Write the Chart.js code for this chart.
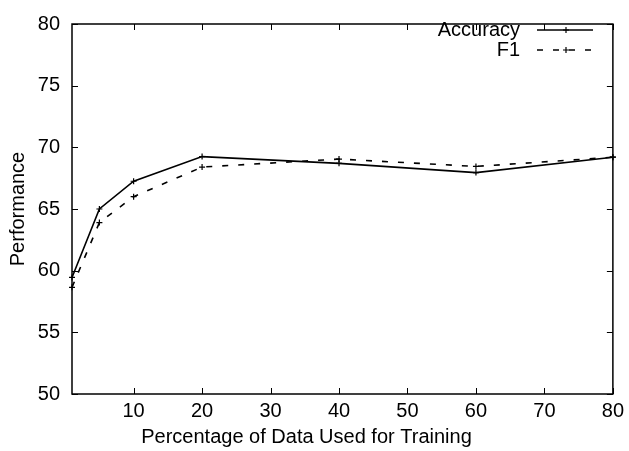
<!DOCTYPE html>
<html>
<head>
<meta charset="utf-8">
<script src="https://cdn.jsdelivr.net/npm/chart.js@4.4.0/dist/chart.umd.min.js"></script>
<style>
  html, body { margin: 0; padding: 0; background: #fff; }
  #wrap { width: 629px; height: 451px; }
</style>
</head>
<body>
<div id="wrap"><canvas id="myChart" width="629" height="451"></canvas></div>
<script>
// values
var pourcentages = [1, 5, 10, 20, 40, 60, 80];
var accuracy = [59.45, 65.0, 67.25, 69.25, 68.7, 67.95, 69.2];
var f1 = [58.65, 63.9, 66.0, 68.4, 69.05, 68.45, 69.2];
var xTicks = [10, 20, 30, 40, 50, 60, 70, 80];
var yTicks = [50, 55, 60, 65, 70, 75, 80];

var police = '"Liberation Sans", Arial, Helvetica, sans-serif';

function points(xs, ys)
{
    return xs.map(function(x, i){ return {x: x, y: ys[i]}; });
}

// cadre + petits traits vers l'interieur, facon gnuplot
var cadre = {
    id: 'cadre',
    afterDraw: function(chart)
    {
        var ctx = chart.ctx;
        var a = chart.chartArea;
        var sx = chart.scales.x, sy = chart.scales.y;
        ctx.save();
        ctx.strokeStyle = '#000';
        ctx.lineWidth = 1.5;
        ctx.strokeRect(a.left, a.top, a.right - a.left, a.bottom - a.top);
        ctx.lineWidth = 1;
        ctx.beginPath();
        sx.ticks.forEach(function(t){
            var px = Math.round(sx.getPixelForValue(t.value)) + 0.5;
            ctx.moveTo(px, a.bottom); ctx.lineTo(px, a.bottom - 6);
            ctx.moveTo(px, a.top); ctx.lineTo(px, a.top + 6);
        });
        sy.ticks.forEach(function(t){
            var py = Math.round(sy.getPixelForValue(t.value)) + 0.5;
            ctx.moveTo(a.left, py); ctx.lineTo(a.left + 6, py);
            ctx.moveTo(a.right, py); ctx.lineTo(a.right - 6, py);
        });
        ctx.stroke();

        // legende en haut a droite
        ctx.font = '20px ' + police;
        ctx.fillStyle = '#000';
        ctx.textAlign = 'right';
        ctx.textBaseline = 'middle';
        chart.data.datasets.forEach(function(ds, i){
            var y = 30 + i * 20;
            ctx.fillText(ds.label, 520, y);
            ctx.beginPath();
            ctx.lineWidth = 1.5;
            ctx.setLineDash(ds.borderDash || []);
            ctx.moveTo(537, y); ctx.lineTo(593, y);
            ctx.stroke();
            ctx.setLineDash([]);
            ctx.lineWidth = 1.2;
            ctx.beginPath();
            ctx.moveTo(563, y); ctx.lineTo(569, y);
            ctx.moveTo(566, y - 3); ctx.lineTo(566, y + 3);
            ctx.stroke();
        });
        ctx.restore();
    }
};

var ctx = document.getElementById('myChart').getContext('2d');
var myChart = new Chart(ctx, {
    type: 'line',
    data: {
        datasets: [
        {
            label: 'Accuracy',
            data: points(pourcentages, accuracy),
            borderColor: '#000',
            backgroundColor: '#000',
            borderWidth: 1.6,
            pointStyle: 'cross',
            pointRadius: 3,
            pointBorderWidth: 1.2,
            pointBorderColor: '#000',
            clip: false,
            tension: 0
        },
        {
            label: 'F1',
            data: points(pourcentages, f1),
            borderColor: '#000',
            backgroundColor: '#000',
            borderWidth: 1.6,
            borderDash: [6, 10],
            pointStyle: 'cross',
            pointRadius: 3,
            pointBorderWidth: 1.2,
            pointBorderColor: '#000',
            clip: false,
            tension: 0
        }
        ]
    },
    options: {
        responsive: false,
        animation: false,
        layout: { padding: { top: 13, right: 16, left: 0, bottom: 0 } },
        plugins: {
            legend: { display: false },
            tooltip: { enabled: false },
            title: {
                display: true,
                position: 'bottom',
                text: 'Percentage of Data Used for Training',
                color: '#000',
                font: { family: police, size: 20, weight: 'normal' },
                padding: { top: 0, bottom: 2 }
            }
        },
        scales: {
            x: {
                type: 'linear',
                min: 1,
                max: 80,
                afterBuildTicks: function(axis){
                    axis.ticks = xTicks.map(function(v){ return {value: v}; });
                },
                afterFit: function(axis){ axis.height = 31; },
                grid: { display: false, drawTicks: false },
                border: { display: false },
                ticks: {
                    color: '#000',
                    padding: 5,
                    maxRotation: 0,
                    font: { family: police, size: 20 }
                }
            },
            y: {
                min: 50,
                max: 80,
                afterBuildTicks: function(axis){
                    axis.ticks = yTicks.map(function(v){ return {value: v}; });
                },
                afterFit: function(axis){ axis.width = 72; },
                grid: { display: false, drawTicks: false },
                border: { display: false },
                title: {
                    display: true,
                    text: 'Performance',
                    color: '#000',
                    font: { family: police, size: 20, weight: 'normal' },
                    padding: { top: 6, bottom: 0 }
                },
                ticks: {
                    color: '#000',
                    padding: 12,
                    font: { family: police, size: 20 }
                }
            }
        }
    },
    plugins: [cadre]
});
</script>
</body>
</html>
